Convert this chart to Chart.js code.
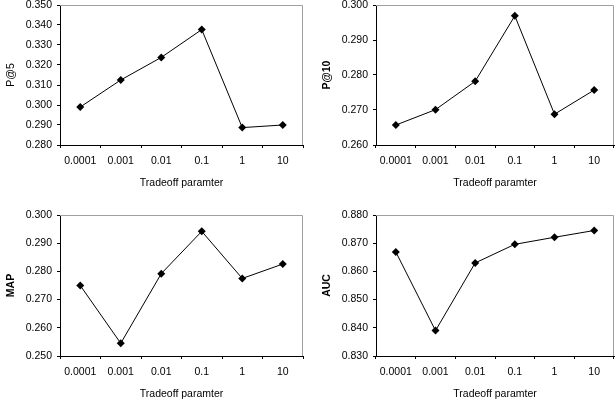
<!DOCTYPE html>
<html>
<head>
<meta charset="utf-8">
<script src="https://cdn.jsdelivr.net/npm/chart.js@4"></script>
<style>
  html, body { margin: 0; padding: 0; background: #fff; overflow: hidden; }
  body { width: 616px; height: 402px; position: relative; }
  canvas { position: absolute; }
</style>
</head>
<body>
<canvas id="c1" width="308" height="201" style="left:0px;top:-10px"></canvas>
<canvas id="c2" width="302" height="201" style="left:316px;top:-10px"></canvas>
<canvas id="c3" width="308" height="202" style="left:0px;top:200px"></canvas>
<canvas id="c4" width="302" height="202" style="left:316px;top:200px"></canvas>
<script>
const params = ["0.0001", "0.001", "0.01", "0.1", "1", "10"];
const p5 = [0.299, 0.3125, 0.3238, 0.3377, 0.2887, 0.290];
const p10 = [0.2657, 0.2701, 0.2782, 0.2969, 0.2688, 0.2757];
const mapVals = [0.275, 0.2545, 0.2792, 0.2942, 0.2775, 0.2826];
const auc = [0.8669, 0.839, 0.863, 0.8696, 0.8721, 0.8745];

const fontFamily = "'Liberation Sans', Arial, sans-serif";

// gray frame on the top and right side of the plot area
const frame = {
  id: "frame",
  afterDraw(chart) {
    const a = chart.chartArea;
    const ctx = chart.ctx;
    ctx.save();
    ctx.strokeStyle = "#a0a0a0";
    ctx.lineWidth = 1;
    ctx.beginPath();
    ctx.moveTo(a.left, a.top + 0.5);
    ctx.lineTo(a.right - 0.5, a.top + 0.5);
    ctx.lineTo(a.right - 0.5, a.bottom);
    ctx.stroke();
    ctx.restore();
  },
};

function makeChart(id, title, values, min, max, bold, rightPad) {
  const ctx = document.getElementById(id).getContext("2d");
  return new Chart(ctx, {
    type: "line",
    data: {
      labels: params,
      datasets: [
        {
          data: values,
          borderColor: "#000",
          borderWidth: 1,
          backgroundColor: "#000",
          pointStyle: "rectRot",
          pointRadius: 4,
          pointBorderWidth: 0,
          tension: 0,
        },
      ],
    },
    options: {
      responsive: false,
      animation: false,
      layout: { padding: { top: 15, right: rightPad, left: 0, bottom: 0 } },
      plugins: { legend: { display: false }, tooltip: { enabled: false } },
      scales: {
        x: {
          type: "category",
          offset: true,
          grid: {
            offset: true,
            drawOnChartArea: false,
            drawTicks: true,
            tickLength: 3,
            color: "#000",
          },
          border: { color: "#000" },
          ticks: {
            color: "#000",
            font: { family: fontFamily, size: 10.5 },
            padding: 7,
            maxRotation: 0,
          },
          title: {
            display: true,
            text: "Tradeoff paramter",
            color: "#000",
            font: { family: fontFamily, size: 10.5 },
            padding: { top: 4, bottom: 2 },
          },
          afterFit(scale) {
            scale.height = 46;
          },
        },
        y: {
          min: min,
          max: max,
          grid: {
            drawOnChartArea: false,
            drawTicks: true,
            tickLength: 3,
            color: "#000",
          },
          border: { color: "#000" },
          ticks: {
            stepSize: 0.01,
            color: "#000",
            font: { family: fontFamily, size: 10.5 },
            padding: 5,
            callback: (v) => v.toFixed(3),
          },
          title: {
            display: true,
            text: title,
            color: "#000",
            font: { family: fontFamily, size: 10.5, weight: bold ? "bold" : "normal" },
            padding: { top: 5, bottom: 4 },
          },
          afterFit(scale) {
            scale.width = 60;
          },
        },
      },
    },
    plugins: [frame],
  });
}

makeChart("c1", "P@5", p5, 0.28, 0.35, false, 5);
makeChart("c2", "P@10", p10, 0.26, 0.30, true, 0);
makeChart("c3", "MAP", mapVals, 0.25, 0.30, true, 5);
makeChart("c4", "AUC", auc, 0.83, 0.88, true, 0);
</script>
</body>
</html>
